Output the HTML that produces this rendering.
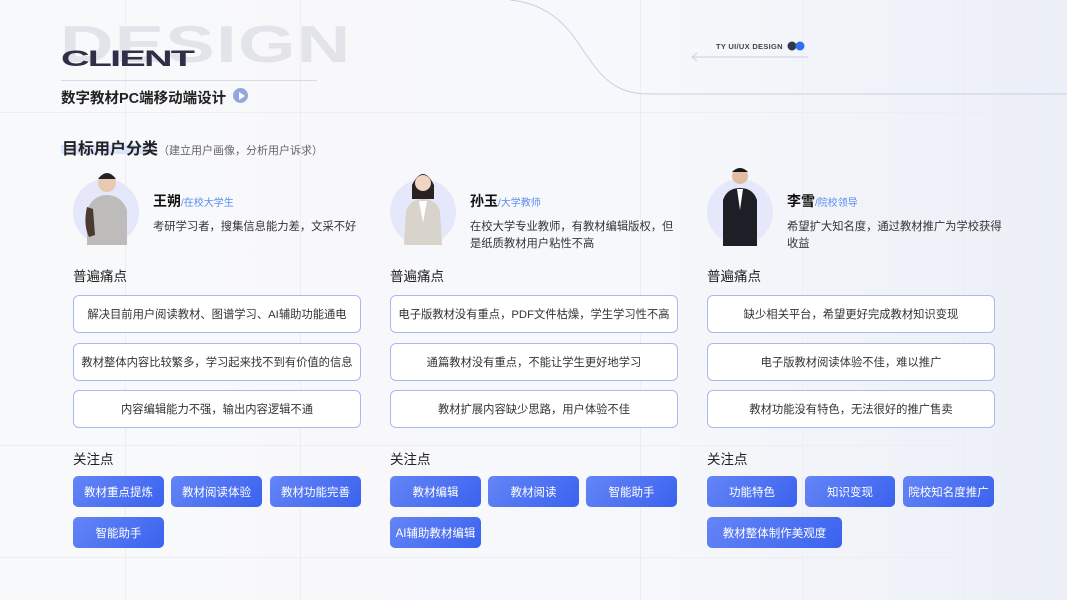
<!DOCTYPE html>
<html><head><meta charset="utf-8"><style>
*{margin:0;padding:0;box-sizing:border-box}
body{width:1067px;height:600px;overflow:hidden;position:relative;font-family:"Liberation Sans","Noto Sans CJK SC",sans-serif;background:linear-gradient(90deg,#f8f9fb 0%,#f7f8fb 60%,#eceff8 100%);color:#222}
.a{position:absolute}
.vl{position:absolute;top:0;width:1px;height:600px;background:#eceef2}
.hl{position:absolute;left:0;width:1067px;height:1px;background:#eceef2}
.box{position:absolute;width:288px;height:38px;border:1px solid #aab8f0;border-radius:6px;background:#fff;font-size:11.3px;color:#333;display:flex;align-items:center;justify-content:center;white-space:nowrap}
.tag{position:absolute;height:31px;border-radius:5px;background:linear-gradient(135deg,#6585f6,#3a62ee);color:#fff;font-size:11.5px;display:flex;align-items:center;justify-content:center;white-space:nowrap}
.h{position:absolute;font-size:13.5px;color:#222}
.nm{position:absolute;font-size:14px;font-weight:bold;color:#111}
.nm span{font-size:10px;font-weight:normal;color:#5b8cf0}
.ds{position:absolute;font-size:11.3px;color:#333;line-height:17px;width:220px}
.av{position:absolute;width:66px;height:66px;border-radius:50%;background:#e4e8fa}
</style></head><body>
<div class="vl" style="left:125px"></div><div class="vl" style="left:300px"></div><div class="vl" style="left:640px"></div><div class="vl" style="left:802px"></div><div class="vl" style="left:963px"></div>
<div class="hl" style="top:112px"></div><div class="hl" style="top:445px"></div><div class="hl" style="top:557px"></div>
<svg class="a" style="left:0;top:0" width="1067" height="120"><path d="M510 0 C560 5 575 40 590 60 C610 90 630 94 650 94 L1067 94" fill="none" stroke="#c6d0e2" stroke-width="1"/><line x1="692" y1="57" x2="808" y2="57" stroke="#c6d0e2"/><path d="M697 53 L692 57 L697 61" fill="none" stroke="#c6d0e2"/><circle cx="792" cy="46" r="4.5" fill="#333848"/><circle cx="800" cy="46" r="4.5" fill="#2f6df5"/></svg>
<div class="a" style="left:716px;top:42px;font-size:7.5px;font-weight:bold;color:#444;letter-spacing:.3px">TY UI/UX DESIGN</div>
<div class="a" style="left:60px;top:19px;font-size:52px;line-height:1;font-weight:bold;color:#e2e4ea;letter-spacing:1px;transform:scaleX(1.42);transform-origin:left">DESIGN</div>
<div class="a" style="left:61px;top:48px;font-size:22px;line-height:1;font-weight:bold;color:#2f3048;transform:scaleX(1.8);transform-origin:left;letter-spacing:-1px">CLIENT</div>
<div class="a" style="left:61px;top:80px;width:256px;height:1px;background:#d3dbe8"></div>
<div class="a" style="left:61px;top:87px;font-size:14.5px;font-weight:bold;color:#222">数字教材PC端移动端设计</div>
<div class="a" style="left:233px;top:88px;width:15px;height:15px;border-radius:50%;background:#90a8e0"></div>
<div class="a" style="left:239px;top:92px;width:0;height:0;border-left:6px solid #fff;border-top:4px solid transparent;border-bottom:4px solid transparent"></div>
<div class="a" style="left:61px;top:145px;width:94px;height:9px;background:#dbe5fb"></div>
<div class="a" style="left:62px;top:135px;font-size:16px;font-weight:bold;color:#222">目标用户分类<span style="font-size:11px;font-weight:normal;color:#666">（建立用户画像，分析用户诉求）</span></div>

<div class="av" style="left:73px;top:179px"></div>
<svg class="a" style="left:73px;top:165px" width="66" height="80"><circle cx="34" cy="18" r="9" fill="#e9c9b0"/><path d="M25 14 Q34 2 43 14 Z" fill="#222"/><path d="M14 80 L14 45 Q20 30 34 30 Q48 30 54 45 L54 80Z" fill="#bdbcba"/><path d="M14 42 Q10 60 16 72 L22 70 L20 44Z" fill="#4a3a30"/></svg>
<div class="av" style="left:390px;top:179px"></div>
<svg class="a" style="left:390px;top:163px" width="66" height="82"><path d="M22 22 Q33 0 44 22 L44 36 L22 36Z" fill="#2a2220"/><circle cx="33" cy="20" r="8" fill="#f0d5c3"/><path d="M14 82 L16 48 Q20 36 33 36 Q46 36 50 48 L52 82Z" fill="#d8d4cc"/><path d="M29 38 L33 60 L37 38Z" fill="#fff"/></svg>
<div class="av" style="left:707px;top:179px"></div>
<svg class="a" style="left:707px;top:162px" width="66" height="84"><circle cx="33" cy="14" r="8" fill="#e2bca4"/><path d="M25 10 Q33 2 41 10Z" fill="#1a1a1a"/><path d="M16 84 L16 38 Q20 26 33 26 Q46 26 50 38 L50 84Z" fill="#1e1f26"/><path d="M30 27 L33 48 L36 27Z" fill="#fff"/></svg>

<div class="nm" style="left:153px;top:191px">王朔<span>/在校大学生</span></div>
<div class="ds" style="left:153px;top:219px">考研学习者，搜集信息能力差，文采不好</div>
<div class="nm" style="left:470px;top:191px">孙玉<span>/大学教师</span></div>
<div class="ds" style="left:470px;top:219px;width:212px">在校大学专业教师，有教材编辑版权，但是纸质教材用户粘性不高</div>
<div class="nm" style="left:787px;top:191px">李雪<span>/院校领导</span></div>
<div class="ds" style="left:787px;top:219px;width:224px">希望扩大知名度，通过教材推广为学校获得收益</div>

<div class="h" style="left:73px;top:265px">普遍痛点</div>
<div class="h" style="left:390px;top:265px">普遍痛点</div>
<div class="h" style="left:707px;top:265px">普遍痛点</div>

<div class="box" style="left:73px;top:295px">解决目前用户阅读教材、图谱学习、AI辅助功能通电</div>
<div class="box" style="left:73px;top:343px">教材整体内容比较繁多，学习起来找不到有价值的信息</div>
<div class="box" style="left:73px;top:390px">内容编辑能力不强，输出内容逻辑不通</div>
<div class="box" style="left:390px;top:295px">电子版教材没有重点，PDF文件枯燥，学生学习性不高</div>
<div class="box" style="left:390px;top:343px">通篇教材没有重点，不能让学生更好地学习</div>
<div class="box" style="left:390px;top:390px">教材扩展内容缺少思路，用户体验不佳</div>
<div class="box" style="left:707px;top:295px">缺少相关平台，希望更好完成教材知识变现</div>
<div class="box" style="left:707px;top:343px">电子版教材阅读体验不佳，难以推广</div>
<div class="box" style="left:707px;top:390px">教材功能没有特色，无法很好的推广售卖</div>

<div class="h" style="left:73px;top:448px">关注点</div>
<div class="h" style="left:390px;top:448px">关注点</div>
<div class="h" style="left:707px;top:448px">关注点</div>

<div class="tag" style="left:73px;top:476px;width:91px">教材重点提炼</div>
<div class="tag" style="left:171px;top:476px;width:91px">教材阅读体验</div>
<div class="tag" style="left:270px;top:476px;width:91px">教材功能完善</div>
<div class="tag" style="left:73px;top:517px;width:91px">智能助手</div>
<div class="tag" style="left:390px;top:476px;width:91px">教材编辑</div>
<div class="tag" style="left:488px;top:476px;width:91px">教材阅读</div>
<div class="tag" style="left:586px;top:476px;width:91px">智能助手</div>
<div class="tag" style="left:390px;top:517px;width:91px">AI辅助教材编辑</div>
<div class="tag" style="left:707px;top:476px;width:90px">功能特色</div>
<div class="tag" style="left:805px;top:476px;width:90px">知识变现</div>
<div class="tag" style="left:903px;top:476px;width:91px">院校知名度推广</div>
<div class="tag" style="left:707px;top:517px;width:135px">教材整体制作美观度</div>
</body></html>
